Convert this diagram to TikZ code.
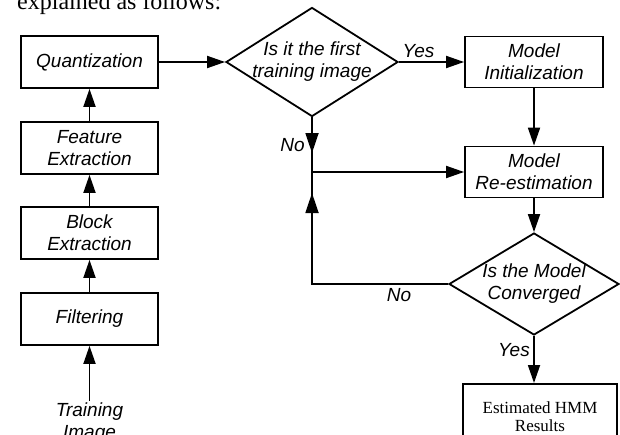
\documentclass[tikz,border=0pt]{standalone}
\usepackage{fontspec}
\setmainfont{Liberation Serif}
\setsansfont{Liberation Sans}
\usetikzlibrary{arrows.meta}
\usetikzlibrary{shapes.geometric}
\usetikzlibrary{decorations.markings}
\usetikzlibrary{positioning}

\tikzset{
  flow/.style={font=\sffamily\itshape\fontsize{19}{22}\selectfont},
  stepbox/.style={draw, flow, line width=1.8pt, minimum width=137pt, minimum height=52pt, align=center, inner sep=0pt},
  decide/.style={draw, flow, diamond, line width=1.8pt, minimum width=172pt, minimum height=101pt, align=center, inner xsep=-10pt, inner ysep=-15pt},
  arr/.style={line width=1.8pt, -{Triangle[length=18pt,width=12pt]}},
  midarr/.style={line width=1.8pt, postaction={decorate}, decoration={markings,
    mark=at position #1 with {\arrow{Triangle[length=20pt,width=13pt]}}}}
}

\begin{document}
\begin{tikzpicture}[x=1pt,y=-1pt]
\clip (0,0) rectangle (620,434);
\fill[white] (0,0) rectangle (620,434);

%\draw (0,0) node at (300,20) {caption};
\node[anchor=base west, inner sep=0pt, font=\fontsize{24}{28}\selectfont] (intro) at (17,9) {explained as follows:};

% left column
\node[stepbox] (quant) at (89.5,62) {Quantization};
\node[stepbox] (feat) at (89.5,148) {Feature\\Extraction};
\node[stepbox] (block) at (89.5,233) {Block\\Extraction};
\node[stepbox] (filt) at (89.5,319) {Filtering};
\node[flow, align=center, inner sep=2pt] (train) at (89.5,423) {Training\\Image};

% right part
\node[decide] (first) at (312,62) {Is it the first\\training image};
\node[stepbox, minimum width=138pt, minimum height=51pt] (init) at (534,62) {Model\\Initialization};
\node[stepbox, minimum width=138pt, minimum height=51pt] (reest) at (534,172) {Model\\Re-estimation};
\node[decide, minimum width=170pt, minimum height=102pt] (conv) at (534,284) {Is the Model\\Converged};
\node[draw, line width=1.8pt, minimum width=154pt, minimum height=66pt, align=center, inner sep=0pt,
  font=\fontsize{17}{18}\selectfont, anchor=north] (result) at (540,383) {Estimated HMM\\Results};
\coordinate (junc) at (312,172);

\draw[arr] (train) -- (filt);
\draw[arr] (filt) -- (block);
\draw[arr] (block) -- (feat);
\draw[arr] (feat) -- (quant);
\draw[arr] (quant) -- (first);
\draw[arr] (first) -- node[flow, above, pos=0.3] {Yes} (init);
\draw[arr] (init) -- (reest);
\draw[midarr=-19pt] (first.south) -- node[flow, left=3pt, pos=0.5] {No} (junc);
\draw[arr] (junc) -- (reest);
\draw[arr] (reest) -- (conv);
\draw[midarr=-21pt] (conv.west) -| node[flow, below, pos=0.18] {No} (junc);
\draw[arr] (conv.south) -- node[flow, left, pos=0.3] {Yes} (conv.south |- result.north);

\end{tikzpicture}
\end{document}
